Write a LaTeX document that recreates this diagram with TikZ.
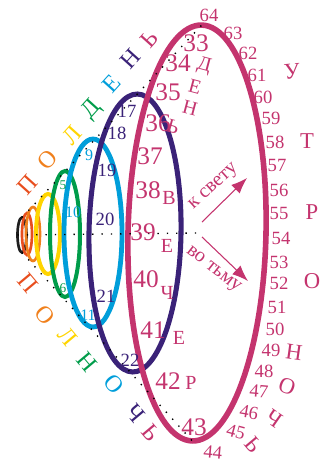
\documentclass[tikz,border=0pt]{standalone}
\usepackage{fontspec}
\setmainfont{Liberation Serif}
\usetikzlibrary{shapes.geometric,arrows.meta}

\definecolor{ink}{RGB}{30,30,30}
\definecolor{ored}{RGB}{232,78,30}
\definecolor{orng}{RGB}{240,128,28}
\definecolor{yel}{RGB}{255,212,0}
\definecolor{grn}{RGB}{0,156,74}
\definecolor{cyn}{RGB}{0,158,218}
\definecolor{ind}{RGB}{58,34,120}
\definecolor{mag}{RGB}{196,52,110}

\tikzset{
  ring/.style={ellipse, draw, inner sep=0pt, outer sep=0pt},
  dots/.style={line width=1pt, dash pattern=on 1pt off 6pt},
  big/.style={inner sep=0pt, text=mag, font=\fontsize{19}{19}\selectfont},
  rim/.style={inner sep=0pt, text=mag, font=\fontsize{14}{14}\selectfont},
  word/.style={inner sep=0pt, font=\fontsize{17}{17}\selectfont},
  arc/.style={inner sep=0pt, font=\fontsize{18}{18}\selectfont},
  ray/.style={mag, line width=0.8pt, -{Latex[length=12pt,width=9pt]}},
}

\begin{document}
\begin{tikzpicture}[x=0.75pt, y=-0.75pt]
  \useasboundingbox (0,0) rectangle (334,461);

  % rings, small to large
  \node[ring, ink, line width=2pt, minimum width=6.75pt, minimum height=26.25pt] (e0) at (22,235) {};
  \node[ring, ored, line width=2pt, minimum width=7.5pt, minimum height=31.5pt] (e1) at (27,234) {};
  \node[ring, orng, line width=2pt, minimum width=10.5pt, minimum height=40.5pt] (e2) at (33,234) {};
  \node[ring, yel, line width=3pt, minimum width=18pt, minimum height=60pt] (e3) at (48,234) {};
  \node[ring, grn, line width=3pt, minimum width=22.5pt, minimum height=94.5pt] (e4) at (65,234) {};
  \node[ring, cyn, line width=3.6pt, minimum width=43.5pt, minimum height=141pt] (e5) at (93,233) {};
  \node[ring, ind, line width=3.8pt, minimum width=69pt, minimum height=208.5pt, rotate=-1] (e6) at (135,233) {};
  \node[ring, mag, line width=4.2pt, minimum width=103.5pt, minimum height=312pt, rotate=-1.3] (e7) at (197,233) {};

  % dotted guides
  \draw[dots] (e0.north) -- (e7.north);
  \draw[dots] (e0.south) -- (e7.south);
  \draw[dots] (e0.west) -- (e7.center);

  % small numbers on inner rings
  \node[inner sep=0pt, text=grn, font=\fontsize{10}{10}\selectfont] (n5) at (63,185) {5};
  \node[inner sep=0pt, text=grn, font=\fontsize{10}{10}\selectfont] (n6) at (63,288) {6};
  \node[inner sep=0pt, text=cyn, font=\fontsize{12}{12}\selectfont] (n9) at (89,155) {9};
  \node[inner sep=0pt, text=cyn, font=\fontsize{12}{12}\selectfont] (n10) at (73,212) {10};
  \node[inner sep=0pt, text=cyn, font=\fontsize{12}{12}\selectfont] (n11) at (88,315) {11};
  \node[inner sep=0pt, text=ind, font=\fontsize{14}{14}\selectfont] (n17) at (127,111) {17};
  \node[inner sep=0pt, text=ind, font=\fontsize{14}{14}\selectfont] (n18) at (117,133) {18};
  \node[inner sep=0pt, text=ind, font=\fontsize{14}{14}\selectfont] (n19) at (107,170) {19};
  \node[inner sep=0pt, text=ind, font=\fontsize{14}{14}\selectfont] (n20) at (105,219) {20};
  \node[inner sep=0pt, text=ind, font=\fontsize{14}{14}\selectfont] (n21) at (106,296) {21};
  \node[inner sep=0pt, text=ind, font=\fontsize{14}{14}\selectfont] (n22) at (130,360) {22};

  % big numbers inside the outer ring
  \node[big] (n33) at (196,43) {33};
  \node[big] (n34) at (178,63) {34};
  \node[big] (n35) at (168,92) {35};
  \node[big] (n36) at (158,123) {36};
  \node[big] (n37) at (150,156) {37};
  \node[big] (n38) at (148,190) {38};
  \node[big] (n39) at (143,232) {39};
  \node[big] (n40) at (146,279) {40};
  \node[big] (n41) at (153,330) {41};
  \node[big] (n42) at (168,381) {42};
  \node[big] (n43) at (194,427) {43};

  % day and evening
  \node[word, text=mag, font=\fontsize{15}{15}\selectfont, rotate=-15] (day1) at (204,66) {Д};
  \node[word, text=mag, font=\fontsize{15}{15}\selectfont, rotate=-15] (day2) at (195,87) {Е};
  \node[word, text=mag, font=\fontsize{15}{15}\selectfont, rotate=-15] (day3) at (190,108) {Н};
  \node[word, text=mag, font=\fontsize{15}{15}\selectfont, rotate=-15] (day4) at (173,127) {Ь};
  \node[word, text=mag, font=\fontsize{15}{15}\selectfont] (eve1) at (169,198) {В};
  \node[word, text=mag, font=\fontsize{15}{15}\selectfont] (eve2) at (167,246) {Е};
  \node[word, text=mag, font=\fontsize{15}{15}\selectfont] (eve3) at (167,293) {Ч};
  \node[word, text=mag, font=\fontsize{15}{15}\selectfont] (eve4) at (179,338) {Е};
  \node[word, text=mag, font=\fontsize{15}{15}\selectfont] (eve5) at (191,383) {Р};

  % numbers round the outer ring
  \node[rim, rotate=-5] (n44) at (213,452) {44};
  \node[rim, rotate=-15] (n45) at (236,432) {45};
  \node[rim, rotate=-10] (n46) at (249,412) {46};
  \node[rim, rotate=-5] (n47) at (259,391) {47};
  \node[rim] (n48) at (264,371) {48};
  \node[rim] (n49) at (271,350) {49};
  \node[rim] (n50) at (275,329) {50};
  \node[rim] (n51) at (277,307) {51};
  \node[rim] (n52) at (279,283) {52};
  \node[rim] (n53) at (279,262) {53};
  \node[rim] (n54) at (281,238) {54};
  \node[rim] (n55) at (279,213) {55};
  \node[rim] (n56) at (279,190) {56};
  \node[rim] (n57) at (277,165) {57};
  \node[rim] (n58) at (275,142) {58};
  \node[rim] (n59) at (271,118) {59};
  \node[rim] (n60) at (263,97) {60};
  \node[rim] (n61) at (257,75) {61};
  \node[rim] (n62) at (248,53) {62};
  \node[rim] (n63) at (233,33) {63};
  \node[rim] (n64) at (209,15) {64};

  % morning and night
  \node[word, text=mag, rotate=5] (morn1) at (292,72) {У};
  \node[word, text=mag] (morn2) at (307,141) {Т};
  \node[word, text=mag] (morn3) at (312,212) {Р};
  \node[word, text=mag] (morn4) at (312,281) {О};
  \node[word, text=mag, rotate=-8] (night1) at (294,352) {Н};
  \node[word, text=mag, rotate=-20] (night2) at (287,386) {О};
  \node[word, text=mag, rotate=-35] (night3) at (274,419) {Ч};
  \node[word, text=mag, rotate=-50] (night4) at (253,445) {Ь};

  % noon, upper arc
  \node[arc, text=ored, rotate=48] (noon1) at (27,185) {П};
  \node[arc, text=orng, rotate=48] (noon2) at (47,160) {О};
  \node[arc, text=yel, rotate=48] (noon3) at (72,135) {Л};
  \node[arc, text=grn, rotate=48] (noon4) at (92,110) {Д};
  \node[arc, text=cyn, rotate=48] (noon5) at (112,84) {Е};
  \node[arc, text=ind, rotate=48] (noon6) at (130,59) {Н};
  \node[arc, text=mag, rotate=48] (noon7) at (149,39) {Ь};

  % midnight, lower arc
  \node[arc, text=ored, rotate=-50] (midn1) at (28,283) {П};
  \node[arc, text=orng, rotate=-50] (midn2) at (45,315) {О};
  \node[arc, text=yel, rotate=-50] (midn3) at (68,337) {Л};
  \node[arc, text=grn, rotate=-50] (midn4) at (87,362) {Н};
  \node[arc, text=cyn, rotate=-50] (midn5) at (114,384) {О};
  \node[arc, text=ind, rotate=-50] (midn6) at (136,413) {Ч};
  \node[arc, text=mag, rotate=-50] (midn7) at (151,433) {Ь};

  % towards light and dark
  \coordinate (up0) at (202,222);
  \coordinate (up1) at (247,178);
  \coordinate (dn0) at (202,237);
  \coordinate (dn1) at (248,281);
  \draw[ray] (up0) -- (up1);
  \draw[ray] (dn0) -- (dn1);
  \node[word, text=mag, font=\fontsize{15}{15}\selectfont, rotate=42] (lite) at (214,187) {к свету};
  \node[word, text=mag, font=\fontsize{15}{15}\selectfont, rotate=-38] (dark) at (213,270) {во тьму};
\end{tikzpicture}
\end{document}
